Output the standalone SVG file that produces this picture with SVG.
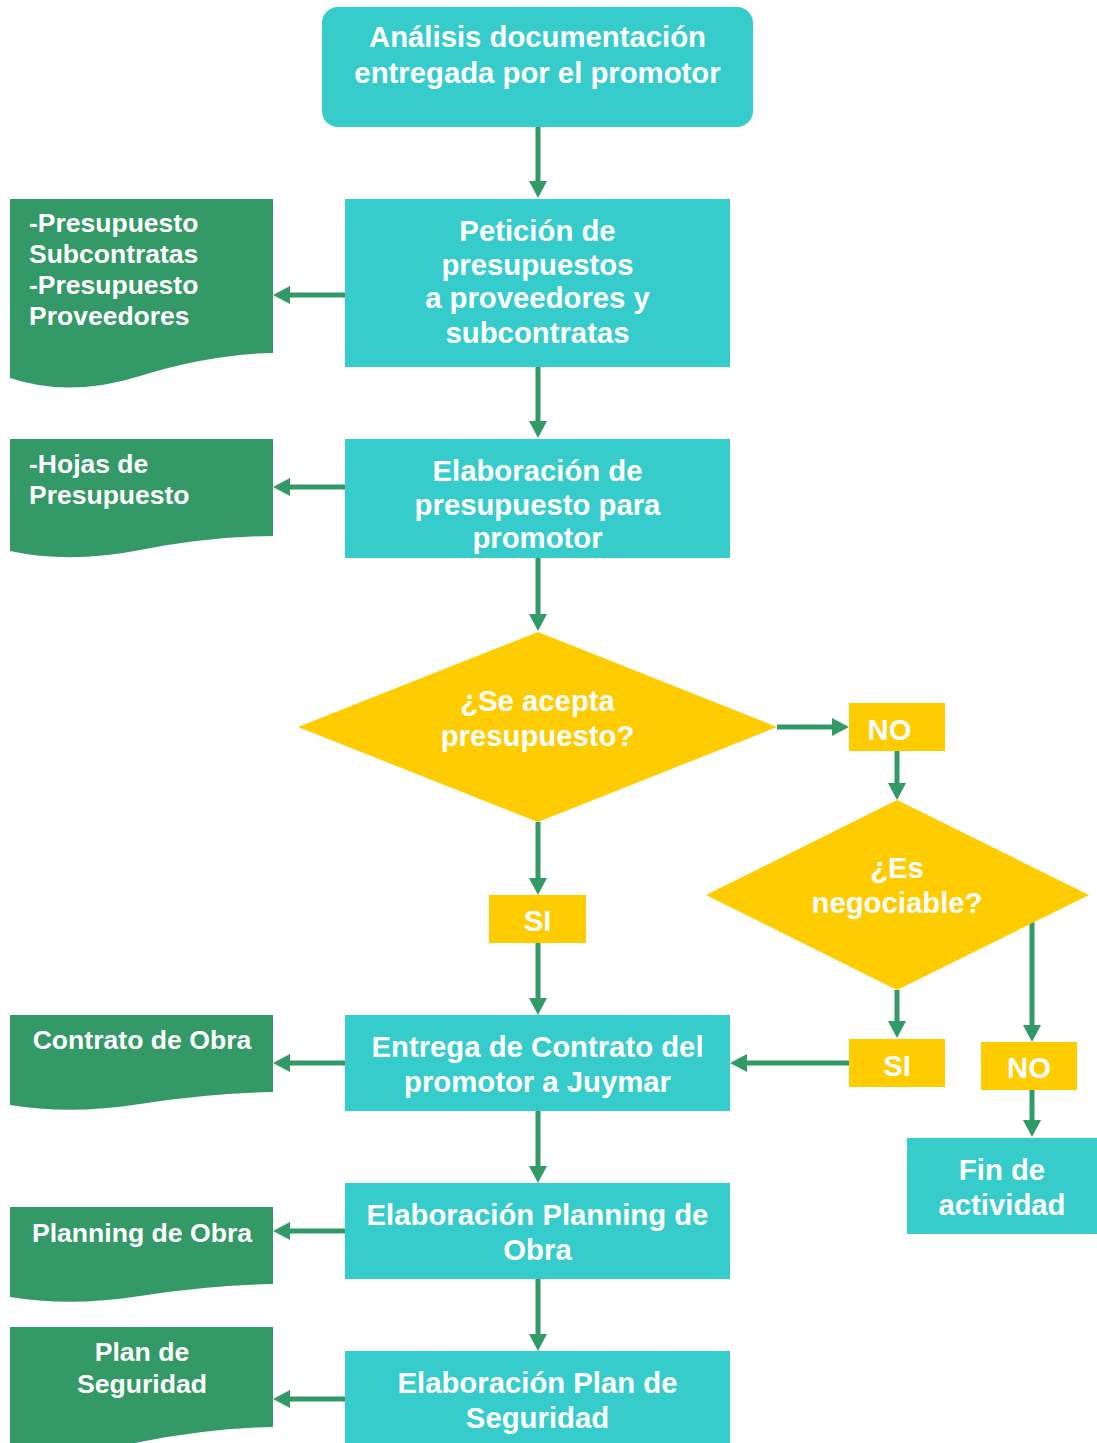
<svg xmlns="http://www.w3.org/2000/svg" width="1097" height="1443" viewBox="0 0 1097 1443">
  <defs>
    <style>
      .proc { fill: #36CCCC; }
      .doc { fill: #339966; }
      .dec { fill: #FFCC00; }
      .t { font-family: "Liberation Sans", Arial, sans-serif; font-weight: bold; fill: #FFFFFF; }
      .big { font-size: 29.3px; text-anchor: middle; }
      .dl { font-size: 26.5px; }
      .dc { font-size: 26.6px; text-anchor: middle; }
      .conn line { stroke: #339966; stroke-width: 5; marker-end: url(#head); }
    </style>
    <marker id="head" markerUnits="userSpaceOnUse" markerWidth="17" markerHeight="18" viewBox="0 0 17 18" refX="3" refY="9" orient="auto">
      <path d="M0,0 L17,9 L0,18 Z" fill="#339966"/>
    </marker>
  </defs>

  <!-- connectors (line ends 14px before the arrow tip) -->
  <g id="connectors" class="conn">
    <line x1="538" y1="127" x2="538" y2="184"/>
    <line x1="345" y1="295" x2="287" y2="295"/>
    <line x1="538" y1="367" x2="538" y2="424"/>
    <line x1="345" y1="487" x2="287" y2="487"/>
    <line x1="538" y1="558" x2="538" y2="617"/>
    <line x1="777" y1="727" x2="835" y2="727"/>
    <line x1="897" y1="751" x2="897" y2="786"/>
    <line x1="538" y1="822" x2="538" y2="881"/>
    <line x1="538" y1="943" x2="538" y2="1001"/>
    <line x1="897" y1="990" x2="897" y2="1024"/>
    <line x1="1032" y1="922" x2="1032" y2="1028"/>
    <line x1="849" y1="1063" x2="744" y2="1063"/>
    <line x1="1032" y1="1090" x2="1032" y2="1123"/>
    <line x1="345" y1="1063" x2="287" y2="1063"/>
    <line x1="538" y1="1111" x2="538" y2="1169"/>
    <line x1="345" y1="1231" x2="287" y2="1231"/>
    <line x1="538" y1="1279" x2="538" y2="1337"/>
    <line x1="345" y1="1399" x2="287" y2="1399"/>
  </g>

  <!-- start -->
  <g id="analisis">
    <rect class="proc" x="322" y="7" width="431" height="120" rx="16"/>
    <text class="t big" x="537.5" y="47">Análisis documentación</text>
    <text class="t big" x="537.5" y="83">entregada por el promotor</text>
  </g>

  <g id="peticion">
    <rect class="proc" x="345" y="199" width="385" height="168"/>
    <text class="t big" x="537.5" y="241">Petición de</text>
    <text class="t big" x="537.5" y="275">presupuestos</text>
    <text class="t big" x="537.5" y="308">a proveedores y</text>
    <text class="t big" x="537.5" y="343">subcontratas</text>
  </g>

  <g id="doc-presupuestos">
    <path class="doc" d="M10,199 H273 V353 Q210,354 140,376 Q70,398 10,378 Z"/>
    <text class="t dl" x="29" y="232">-Presupuesto</text>
    <text class="t dl" x="29" y="263">Subcontratas</text>
    <text class="t dl" x="29" y="294">-Presupuesto</text>
    <text class="t dl" x="29" y="325">Proveedores</text>
  </g>

  <g id="elaboracion-presupuesto">
    <rect class="proc" x="345" y="439" width="385" height="119"/>
    <text class="t big" x="537.5" y="481">Elaboración de</text>
    <text class="t big" x="537.5" y="515">presupuesto para</text>
    <text class="t big" x="537.5" y="548">promotor</text>
  </g>

  <g id="doc-hojas">
    <path class="doc" d="M10,439 H273 V536 Q210,536.5 140,550 Q70,564 10,551 Z"/>
    <text class="t dl" x="29" y="473">-Hojas de</text>
    <text class="t dl" x="29" y="504">Presupuesto</text>
  </g>

  <g id="acepta">
    <polygon class="dec" points="538,632 777,727 538,822 298,727"/>
    <text class="t big" x="537.5" y="711">¿Se acepta</text>
    <text class="t big" x="537.5" y="746">presupuesto?</text>
  </g>

  <g id="no-1">
    <rect class="dec" x="849" y="703" width="96" height="48"/>
    <text class="t big" x="889.5" y="740">NO</text>
  </g>

  <g id="negociable">
    <polygon class="dec" points="897,800 1089,895 897,990 706,895"/>
    <text class="t big" x="897" y="878">¿Es</text>
    <text class="t big" x="897" y="913">negociable?</text>
  </g>

  <g id="si-1">
    <rect class="dec" x="489" y="895" width="97" height="48"/>
    <text class="t big" x="537.5" y="931">SI</text>
  </g>

  <g id="si-2">
    <rect class="dec" x="849" y="1039" width="96" height="48"/>
    <text class="t big" x="897" y="1076">SI</text>
  </g>

  <g id="no-2">
    <rect class="dec" x="981" y="1042" width="96" height="48"/>
    <text class="t big" x="1029" y="1078">NO</text>
  </g>

  <g id="fin">
    <rect class="proc" x="907" y="1138" width="190" height="96"/>
    <text class="t big" x="1002" y="1180">Fin de</text>
    <text class="t big" x="1002" y="1215">actividad</text>
  </g>

  <g id="entrega-contrato">
    <rect class="proc" x="345" y="1015" width="385" height="96"/>
    <text class="t big" x="537.5" y="1057">Entrega de Contrato del</text>
    <text class="t big" x="537.5" y="1092">promotor a Juymar</text>
  </g>

  <g id="doc-contrato">
    <path class="doc" d="M10,1015 H273 V1092 Q210,1093 140,1104 Q70,1115 10,1105 Z"/>
    <text class="t dc" x="142" y="1049">Contrato de Obra</text>
  </g>

  <g id="planning">
    <rect class="proc" x="345" y="1183" width="385" height="96"/>
    <text class="t big" x="537.5" y="1225">Elaboración Planning de</text>
    <text class="t big" x="537.5" y="1260">Obra</text>
  </g>

  <g id="doc-planning">
    <path class="doc" d="M10,1207 H273 V1284 Q210,1285 140,1296 Q70,1307 10,1297 Z"/>
    <text class="t dc" x="142" y="1242">Planning de Obra</text>
  </g>

  <g id="plan-seguridad">
    <rect class="proc" x="345" y="1351" width="385" height="96"/>
    <text class="t big" x="537.5" y="1393">Elaboración Plan de</text>
    <text class="t big" x="537.5" y="1428">Seguridad</text>
  </g>

  <g id="doc-seguridad">
    <path class="doc" d="M10,1327 H273 V1427 Q210,1428 140,1442 Q70,1456 10,1443 Z"/>
    <text class="t dc" x="142" y="1361">Plan de</text>
    <text class="t dc" x="142" y="1393">Seguridad</text>
  </g>
</svg>
